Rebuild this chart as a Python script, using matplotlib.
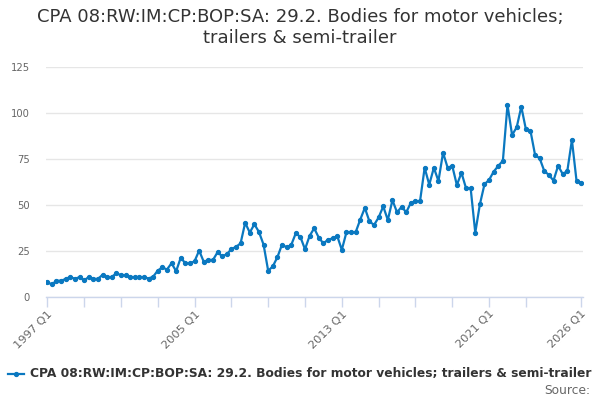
import matplotlib
matplotlib.use("Agg")
import matplotlib.pyplot as plt
import numpy as np

# quarterly series, 1997 Q1 .. 2026 Q1
quarters = [f"{y} Q{q}" for y in range(1997, 2027) for q in range(1, 5)][:117]
values = [
    8.2, 7.0, 9.0, 9.0, 10.0, 11.1, 10.0, 11.0, 9.2, 11.0, 10.0, 10.0,
    12.2, 11.0, 11.0, 13.1, 12.0, 12.0, 11.0, 11.0, 11.0, 11.0, 10.2, 11.2,
    14.5, 16.3, 15.1, 18.5, 14.2, 21.5, 18.5, 18.4, 19.6, 25.4, 19.3, 20.3,
    20.3, 24.5, 22.3, 23.4, 26.2, 27.4, 29.3, 40.5, 35.2, 39.7, 35.5, 28.6,
    14.4, 16.8, 21.8, 28.6, 27.2, 28.4, 34.8, 32.8, 26.1, 33.4, 37.5, 32.4,
    29.3, 31.3, 32.0, 33.3, 25.8, 35.3, 35.3, 35.3, 42.2, 48.6, 41.3, 39.3,
    43.4, 49.4, 42.0, 52.8, 46.2, 49.2, 46.2, 51.4, 52.3, 52.3, 70.4, 61.2,
    70.4, 63.2, 78.6, 70.4, 71.4, 61.0, 67.7, 59.2, 59.2, 35.1, 50.5, 61.4,
    63.8, 68.3, 71.4, 74.2, 104.5, 88.2, 92.4, 103.6, 91.3, 90.4, 77.3, 75.5,
    68.6, 66.5, 63.4, 71.5, 67.0, 68.6, 85.5, 63.4, 62.3,
]
yticks = [0, 25, 50, 75, 100, 125]
tick_idx = list(range(0, 105, 8)) + [116]
label_idx = [0, 32, 64, 96, 116]

title = "CPA 08:RW:IM:CP:BOP:SA: 29.2. Bodies for motor vehicles;\ntrailers & semi-trailer"
series_name = "CPA 08:RW:IM:CP:BOP:SA: 29.2. Bodies for motor vehicles; trailers & semi-trailer"

line_col = "#0a78c0"
grid_col = "#e6e6e6"
axis_col = "#ccd6eb"
label_col = "#666666"
text_col = "#333333"

fig = plt.figure(figsize=(6, 4), dpi=100)
ax = fig.add_axes([46 / 600, 1 - 297.3 / 400, (583 - 46) / 600, 230 / 400])

x = np.arange(len(values))
ax.plot(x, values, color=line_col, lw=1.6, marker="o", ms=2.8, zorder=3)

ax.set_xlim(-0.28, 116.41)
ax.set_ylim(0, 125)
ax.set_yticks(yticks)
ax.set_yticklabels([str(t) for t in yticks])
ax.yaxis.grid(True, color=grid_col, lw=1)
ax.set_axisbelow(True)
ax.tick_params(axis="y", length=0, pad=11.5, labelsize=7.2, labelcolor=label_col)

ax.set_xticks(tick_idx)
ax.set_xticklabels([quarters[i] if i in label_idx else "" for i in tick_idx],
                   rotation=45, ha="right", va="top", rotation_mode="anchor")
ax.tick_params(axis="x", length=7.3, width=1, color=axis_col, pad=1,
               labelsize=8.2, labelcolor=label_col)

for s in ["top", "right", "left"]:
    ax.spines[s].set_visible(False)
ax.spines["bottom"].set_color(axis_col)
ax.spines["bottom"].set_linewidth(1)

fig.text(0.5, 1 - 27.5 / 400, title, ha="center", va="center", fontsize=13,
         color=text_col, linespacing=1.15)

# legend drawn by hand
fig.add_artist(plt.Line2D([8 / 600, 24 / 600], [1 - 373.5 / 400] * 2,
                          color=line_col, lw=1.6))
fig.add_artist(plt.Line2D([16 / 600], [1 - 373.5 / 400], color=line_col,
                          marker="o", ms=2.8))
fig.text(30 / 600, 1 - 373.5 / 400, series_name, ha="left", va="center",
         fontsize=8.8, fontweight="bold", color=text_col)
fig.text(590 / 600, 1 - 390 / 400, "Source:", ha="right", va="center",
         fontsize=8.8, color=label_col)

fig.savefig("out.png", dpi=100)
